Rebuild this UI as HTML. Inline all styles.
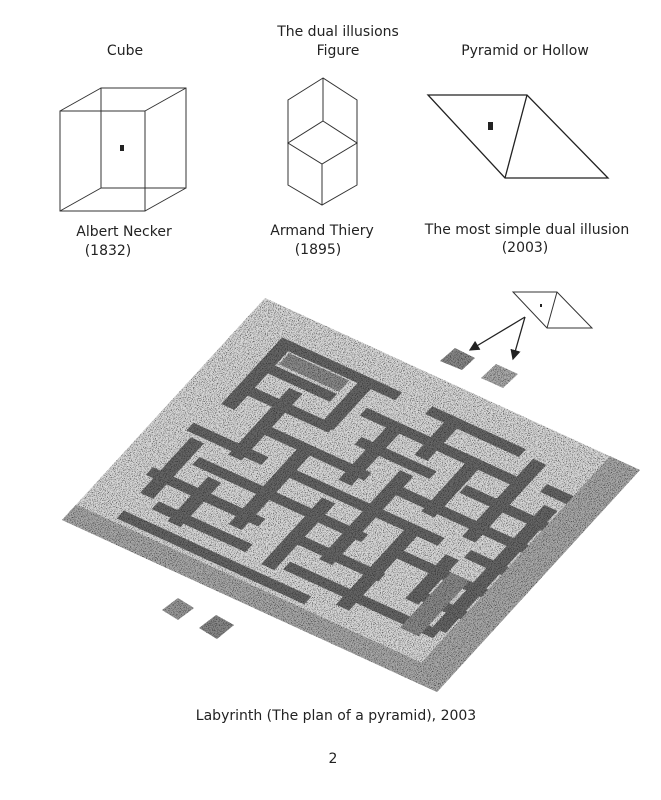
<!DOCTYPE html>
<html><head><meta charset="utf-8"><style>
html,body{margin:0;padding:0;background:#fff;}
svg{display:block}
text{font-family:"DejaVu Sans","Liberation Sans",sans-serif;font-size:14px;fill:#222}
</style></head><body>
<svg width="661" height="800" viewBox="0 0 661 800" xmlns="http://www.w3.org/2000/svg">
<defs>
<filter id="n" x="0" y="0" width="100%" height="100%">
<feTurbulence type="fractalNoise" baseFrequency="1.2" numOctaves="1" seed="3" result="t"/>
<feColorMatrix type="matrix" in="t" values="0 0 0 0 0  0 0 0 0 0  0 0 0 0 0  4 0 0 0 -1.9" result="a"/>
<feFlood flood-color="#222" result="k"/>
<feComposite in="k" in2="a" operator="in" result="dots"/>
<feComposite in="dots" in2="SourceGraphic" operator="in" result="d2"/>
<feMerge><feMergeNode in="SourceGraphic"/><feMergeNode in="d2"/></feMerge>
</filter>
<marker id="ar" markerWidth="8" markerHeight="8" refX="7" refY="4" orient="auto"><path d="M0,0 L8,4 L0,8 Z" fill="#222"/></marker>
</defs>

<text x="338" y="36" text-anchor="middle">The dual illusions</text>
<text x="338" y="55" text-anchor="middle">Figure</text>
<text x="125" y="55" text-anchor="middle">Cube</text>
<text x="525" y="55" text-anchor="middle">Pyramid or Hollow</text>

<g fill="none" stroke="#333" stroke-width="1">
<rect x="60" y="111" width="85" height="100"/>
<rect x="101" y="88" width="85" height="100"/>
<line x1="60" y1="111" x2="101" y2="88"/><line x1="145" y1="111" x2="186" y2="88"/>
<line x1="60" y1="211" x2="101" y2="188"/><line x1="145" y1="211" x2="186" y2="188"/>
</g>
<rect x="120" y="145" width="4" height="6" fill="#222"/>

<g fill="none" stroke="#333" stroke-width="1">
<polygon points="323,78 288,100 288,185 322,205 357,185 357,100"/>
<line x1="323" y1="78" x2="323" y2="121"/>
<polygon points="323,121 357,143 322,164 288,143"/>
<line x1="322" y1="164" x2="322" y2="205"/>
</g>

<g fill="none" stroke="#222" stroke-width="1.3">
<polygon points="428,95 527,95 608,178 505,178"/>
<line x1="527" y1="95" x2="505" y2="178"/>
</g>
<rect x="488" y="122" width="5" height="8" fill="#222"/>

<text x="124" y="236" text-anchor="middle">Albert Necker</text>
<text x="108" y="255" text-anchor="middle">(1832)</text>
<text x="322" y="235" text-anchor="middle">Armand Thiery</text>
<text x="318" y="254" text-anchor="middle">(1895)</text>
<text x="527" y="234" text-anchor="middle">The most simple dual illusion</text>
<text x="525" y="252" text-anchor="middle">(2003)</text>

<g filter="url(#n)">
<g transform="matrix(3.75,1.72,-2.03,2.22,265,298)">
<rect x="0" y="0" width="100" height="100" fill="#d8d8d8"/>
<g fill="#666">
<rect x="12" y="10" width="30" height="3.5"/>
<rect x="50" y="10" width="25" height="3.5"/>
<rect x="12" y="20" width="18" height="3.5"/>
<rect x="38" y="20" width="40" height="3.5"/>
<rect x="85" y="18" width="8" height="3.5"/>
<rect x="10" y="30" width="25" height="3.5"/>
<rect x="42" y="30" width="20" height="3.5"/>
<rect x="70" y="30" width="22" height="3.5"/>
<rect x="20" y="40" width="30" height="3.5"/>
<rect x="58" y="40" width="35" height="3.5"/>
<rect x="8" y="50" width="20" height="3.5"/>
<rect x="35" y="50" width="40" height="3.5"/>
<rect x="82" y="50" width="12" height="3.5"/>
<rect x="15" y="60" width="45" height="3.5"/>
<rect x="68" y="60" width="25" height="3.5"/>
<rect x="8" y="70" width="30" height="3.5"/>
<rect x="45" y="70" width="25" height="3.5"/>
<rect x="78" y="70" width="14" height="3.5"/>
<rect x="15" y="80" width="25" height="3.5"/>
<rect x="50" y="80" width="40" height="3.5"/>
<rect x="10" y="88" width="50" height="3.5"/>
<rect x="10" y="10" width="3.5" height="30"/>
<rect x="10" y="55" width="3.5" height="25"/>
<rect x="20" y="25" width="3.5" height="30"/>
<rect x="20" y="65" width="3.5" height="20"/>
<rect x="32" y="12" width="3.5" height="20"/>
<rect x="32" y="42" width="3.5" height="35"/>
<rect x="45" y="22" width="3.5" height="25"/>
<rect x="45" y="55" width="3.5" height="30"/>
<rect x="55" y="10" width="3.5" height="18"/>
<rect x="55" y="35" width="3.5" height="40"/>
<rect x="66" y="20" width="3.5" height="25"/>
<rect x="66" y="52" width="3.5" height="35"/>
<rect x="78" y="12" width="3.5" height="35"/>
<rect x="78" y="55" width="3.5" height="20"/>
<rect x="88" y="25" width="3.5" height="55"/>
</g>
<g fill="#a8a8a8">
<rect x="92" y="0" width="8" height="100"/>
<rect x="0" y="93" width="100" height="7"/>
</g>
<g fill="#8a8a8a">
<rect x="14" y="14" width="16" height="5"/>
<rect x="82" y="60" width="5" height="25"/>
</g>
</g>
</g>

<g fill="none" stroke="#333" stroke-width="1">
<polygon points="513,292 557,292 592,328 547,328"/>
<line x1="557" y1="292" x2="547" y2="328"/>
</g>
<rect x="540" y="304" width="2" height="3" fill="#222"/>
<g stroke="#222" stroke-width="1.3" fill="none">
<line x1="525" y1="317" x2="470" y2="350" marker-end="url(#ar)"/>
<line x1="525" y1="317" x2="513" y2="359" marker-end="url(#ar)"/>
</g>
<g filter="url(#n)">
<polygon points="440,361 455,348 475,358 462,370" fill="#888"/>
<polygon points="481,378 496,364 518,374 503,388" fill="#aaa"/>
<polygon points="162,610 178,598 194,608 178,620" fill="#999"/>
<polygon points="199,628 216,615 234,625 217,639" fill="#888"/>
</g>

<text x="336" y="720" text-anchor="middle">Labyrinth (The plan of a pyramid), 2003</text>
<text x="333" y="763" text-anchor="middle">2</text>
</svg>
</body></html>
